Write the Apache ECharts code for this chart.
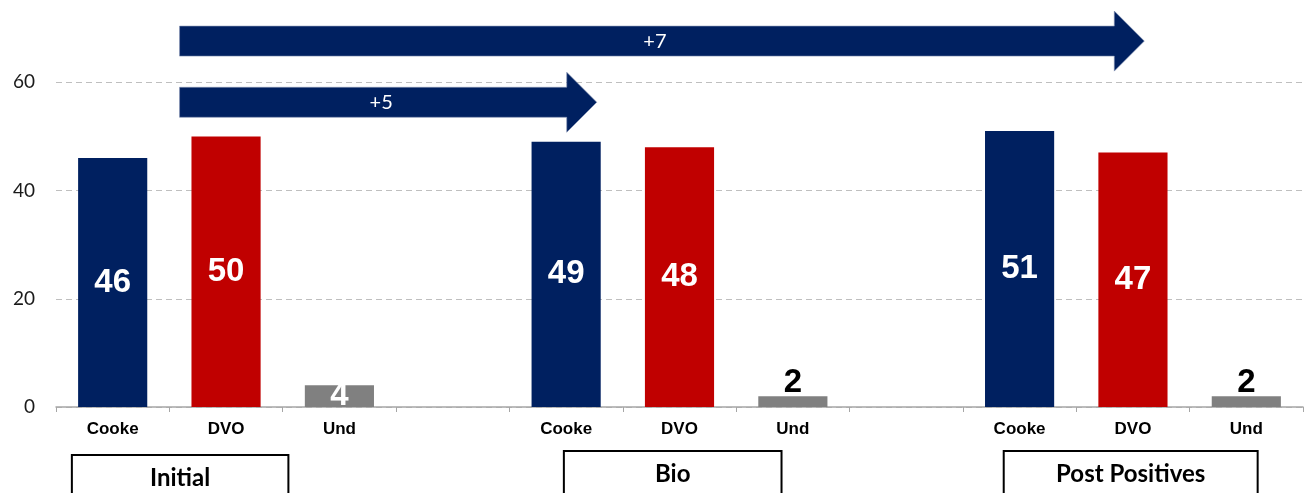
<!DOCTYPE html>
<html><head><meta charset="utf-8">
<script src="https://cdn.jsdelivr.net/npm/echarts@6/dist/echarts.min.js"></script>
<style>html,body{margin:0;padding:0;background:#fff}#c{width:1309px;height:493px}</style>
</head><body><div id="c"></div>
<script>
// ---- data ----
const groups = ['Initial', 'Bio', 'Post Positives'];
const candidates = ['Cooke', 'DVO', 'Und'];
const cooke = [46, 49, 51];
const dvo = [50, 48, 47];
const und = [4, 2, 2];
const yTicks = [0, 20, 40, 60];
// arrows: start / tip in category-index units, height in value units
const arrowFrom = [0.59, 0.59];
const arrowTo = [9.1, 4.27];
const arrowY = [67.6, 56.3];
const arrowText = ['+7', '+5'];

// ---- build ----
const colors = ['#002060', '#C00000', '#808080'];
const categories = [];
const barData = [];
groups.forEach((g, gi) => {
  const vals = [cooke[gi], dvo[gi], und[gi]];
  candidates.forEach((c, ci) => {
    categories.push(c);
    const v = vals[ci];
    const item = { value: v, itemStyle: { color: colors[ci] } };
    if (ci === 2 && v < 3) {
      item.label = { position: 'top', color: '#000', distance: -3 };
    }
    barData.push(item);
  });
  if (gi < groups.length - 1) { categories.push(''); barData.push('-'); }
});

const chart = echarts.init(document.getElementById('c'), null, { renderer: 'canvas' });
chart.setOption({
  animation: false,
  backgroundColor: '#fff',
  grid: { left: 56, right: 6, top: -26, bottom: 86, containLabel: false, outerBoundsMode: 'none' },
  xAxis: {
    type: 'category',
    data: categories,
    axisLine: { lineStyle: { color: '#A6A6A6', width: 1.5 } },
    axisTick: { show: true, length: 5, lineStyle: { color: '#A6A6A6' } },
    axisLabel: { interval: 0, margin: 14, color: '#000', fontFamily: 'Liberation Sans', fontWeight: 'bold', fontSize: 17 }
  },
  yAxis: {
    type: 'value', min: 0, max: 80, interval: 20,
    axisLine: { show: false }, axisTick: { show: false },
    axisLabel: {
      margin: 21, color: '#1a1a1a', fontFamily: 'Lato', fontSize: 19,
      formatter: v => (yTicks.indexOf(v) >= 0 ? String(v) : '')
    },
    splitLine: { lineStyle: { color: '#BFBFBF', type: [6, 4], width: 1 } }
  },
  series: [
    {
      type: 'bar',
      data: barData,
      barWidth: '61%',
      label: {
        show: true, position: 'inside', color: '#fff',
        fontFamily: 'Liberation Sans', fontWeight: 'bold', fontSize: 33
      }
    },
    {
      type: 'custom',
      coordinateSystem: 'cartesian2d',
      data: arrowFrom.map((f, i) => [f, arrowTo[i], arrowY[i]]),
      encode: { x: [0, 1], y: 2 },
      z: 5,
      renderItem: function (params, api) {
        const p0 = api.coord([0, api.value(2)]);
        const band = api.size([1, 0])[0];
        const x0 = p0[0] + api.value(0) * band;
        const x1 = p0[0] + api.value(1) * band;
        const y = p0[1];
        const sh = 15, hh = 30, hl = 30;
        const xb = x1 - hl;
        return {
          type: 'group',
          children: [
            {
              type: 'polygon',
              shape: { points: [[x0, y - sh], [xb, y - sh], [xb, y - hh], [x1, y], [xb, y + hh], [xb, y + sh], [x0, y + sh]] },
              style: { fill: '#002060', stroke: '#7f8fb0', lineWidth: 0.6 }
            },
            {
              type: 'text',
              x: (x0 + x1) / 2 - 7, y: y,
              style: {
                text: arrowText[params.dataIndex], fill: '#fff',
                font: '20px Lato', align: 'center', verticalAlign: 'middle'
              }
            }
          ]
        };
      }
    }
  ]
});

// group boxes below the axis
const boxFrom = [0.14, 4.48, 8.36];
const boxTo = [2.05, 6.40, 10.6];
const boxTop = [455, 451, 451];
const o = chart.convertToPixel({ gridIndex: 0 }, [0, 0]);
const o1 = chart.convertToPixel({ gridIndex: 0 }, [1, 0]);
const band = o1[0] - o[0];
const start = o[0] - band / 2;
const graphics = [];
groups.forEach((g, i) => {
  const xa = start + boxFrom[i] * band, xb = start + boxTo[i] * band;
  graphics.push({
    type: 'rect', shape: { x: xa, y: boxTop[i], width: xb - xa, height: 60 },
    style: { fill: '#fff', stroke: '#000', lineWidth: 2 }
  });
  graphics.push({
    type: 'text', x: (xa + xb) / 2, y: boxTop[i] + 23,
    style: { text: g, fill: '#000', font: 'bold 24px Lato', align: 'center', verticalAlign: 'middle' }
  });
});
chart.setOption({ graphic: graphics });
</script>
</body></html>
